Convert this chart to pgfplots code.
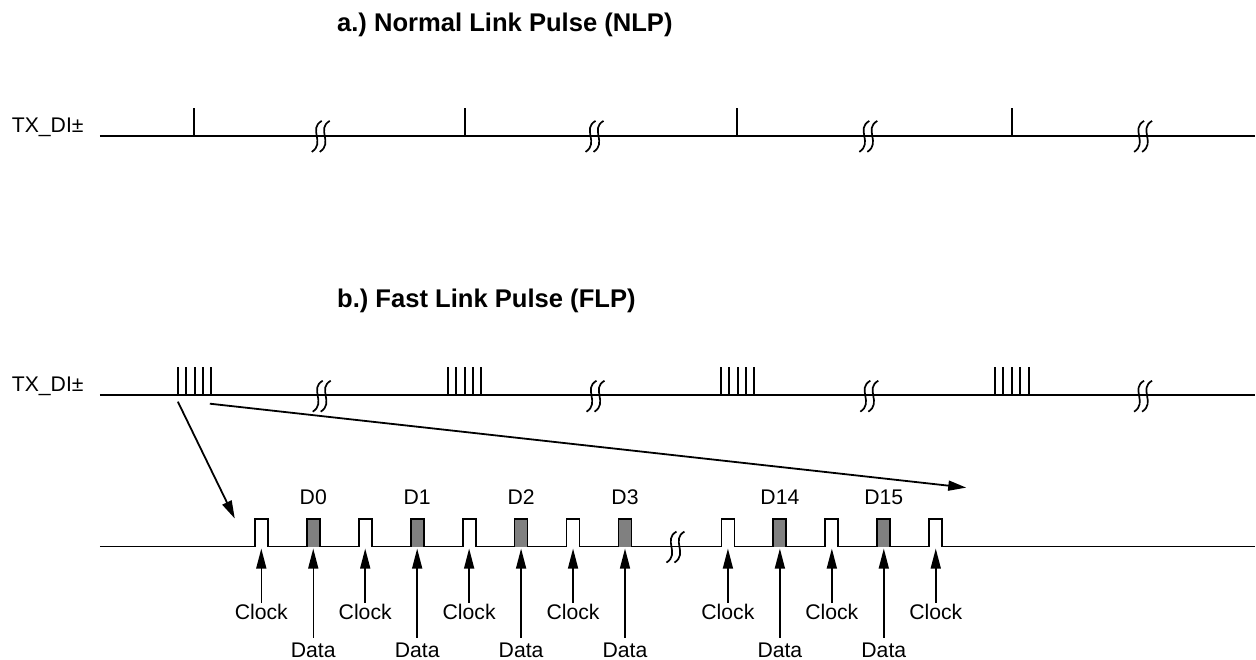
\documentclass[border=0pt]{standalone}
\usepackage{fontspec}
\setmainfont{Liberation Sans}
\usepackage{pgfplots}
\pgfplotsset{compat=1.18}
\usetikzlibrary{arrows.meta}

% break symbol drawn at each data point
\pgfdeclareplotmark{brk}{%
  \pgfpathmoveto{\pgfqpoint{-4.5pt}{-8pt}}%
  \pgfpathcurveto{\pgfqpoint{2.5pt}{-3.5pt}}{\pgfqpoint{-6.5pt}{3.5pt}}{\pgfqpoint{0.5pt}{7.5pt}}%
  \pgfpathmoveto{\pgfqpoint{-0.5pt}{-8pt}}%
  \pgfpathcurveto{\pgfqpoint{6.5pt}{-3.5pt}}{\pgfqpoint{-2.5pt}{3.5pt}}{\pgfqpoint{4.5pt}{7.5pt}}%
  \pgfusepathqstroke}

\newcommand{\txt}{\fontsize{10.6}{12}\selectfont}
\newcommand{\ttl}{\fontsize{12.8}{15}\selectfont\bfseries}
\frenchspacing

\begin{document}
\begin{tikzpicture}
\begin{axis}[width=628pt, height=330pt, scale only axis,
    xmin=0, xmax=1256, ymin=0, ymax=660, y dir=reverse,
    hide axis, clip=false,
    cycle list={{black, mark=none, line width=1pt}}]
  \path (rel axis cs:0,0) rectangle (rel axis cs:1,1);

  % ---- a.) NLP
  \node[anchor=base west, inner sep=0] at (axis cs:337,31.5) {\ttl a.) Normal Link Pulse (NLP)};
  \node[anchor=base east, inner sep=0] at (axis cs:84,133) {\txt TX\_DI±};
  \addplot[black, line width=1pt] coordinates {(100,136) (1256,136)};
  \pgfplotsinvokeforeach{194,465,738,1013}{
    \addplot[black, line width=1pt] coordinates {(#1,136) (#1,108)};
  }
  \addplot[black, only marks, mark=brk, mark options={line width=0.85pt}]
    coordinates {(321,136) (595,136) (869,136) (1144,136)};

  % ---- b.) FLP
  \node[anchor=base west, inner sep=0] at (axis cs:337,308) {\ttl b.) Fast Link Pulse (FLP)};
  \node[anchor=base east, inner sep=0] at (axis cs:84,392) {\txt TX\_DI±};
  \addplot[black, line width=1pt] coordinates {(100,395) (1256,395)};
  \pgfplotsinvokeforeach{178,186,195,203,211, 448,456,465,473,481,
                         722,730,739,747,755, 996,1004,1013,1021,1030}{
    \addplot[black, line width=1pt] coordinates {(#1,395) (#1,367)};
  }
  \addplot[black, only marks, mark=brk, mark options={line width=0.85pt}]
    coordinates {(322,396) (596,396) (870,396) (1144,396)};

  % zoom arrows
  \addplot[black, line width=0.9pt, -{Triangle[length=9pt,width=5pt]}]
    coordinates {(178,402) (235,519)};
  \addplot[black, line width=0.9pt, -{Triangle[length=9pt,width=5pt]}]
    coordinates {(210,404) (967,488)};

  % expanded burst: data pulses (filled) then waveform outline
  \pgfplotsinvokeforeach{307,411,515,619,774,878}{
    \addplot[draw=none, fill=gray] coordinates {(#1,547) (#1,519) (#1+13,519) (#1+13,547)};
  }
  \addplot[black, line width=0.9pt] coordinates {
    (100,547)
    (255,547)(255,519)(268,519)(268,547)
    (307,547)(307,519)(320,519)(320,547)
    (359,547)(359,519)(372,519)(372,547)
    (411,547)(411,519)(424,519)(424,547)
    (463,547)(463,519)(476,519)(476,547)
    (515,547)(515,519)(528,519)(528,547)
    (567,547)(567,519)(580,519)(580,547)
    (619,547)(619,519)(632,519)(632,547)
    (722,547)(722,519)(735,519)(735,547)
    (774,547)(774,519)(787,519)(787,547)
    (826,547)(826,519)(839,519)(839,547)
    (878,547)(878,519)(891,519)(891,547)
    (930,547)(930,519)(943,519)(943,547)
    (1256,547)};
  \addplot[black, only marks, mark=brk, mark options={line width=0.85pt}]
    coordinates {(676,547)};

  % data bit labels
  \node[anchor=base, inner sep=0] at (axis cs:313.5,505) {\txt D0};
  \node[anchor=base, inner sep=0] at (axis cs:417.5,505) {\txt D1};
  \node[anchor=base, inner sep=0] at (axis cs:521.5,505) {\txt D2};
  \node[anchor=base, inner sep=0] at (axis cs:625.5,505) {\txt D3};
  \node[anchor=base, inner sep=0] at (axis cs:780.5,505) {\txt D14};
  \node[anchor=base, inner sep=0] at (axis cs:884.5,505) {\txt D15};

  % clock and data pointers
  \pgfplotsinvokeforeach{261.5,365.5,469.5,573.5,728.5,832.5,936.5}{
    \addplot[black, line width=0.75pt, -{Triangle[length=10pt,width=5pt]}]
      coordinates {(#1,603) (#1,549)};
    \node[anchor=base, inner sep=0] at (axis cs:#1,620) {\txt Clock};
  }
  \pgfplotsinvokeforeach{313.5,417.5,521.5,625.5,780.5,884.5}{
    \addplot[black, line width=0.75pt, -{Triangle[length=10pt,width=5pt]}]
      coordinates {(#1,638) (#1,549)};
    \node[anchor=base, inner sep=0] at (axis cs:#1,658) {\txt Data};
  }
\end{axis}
\end{tikzpicture}
\end{document}
